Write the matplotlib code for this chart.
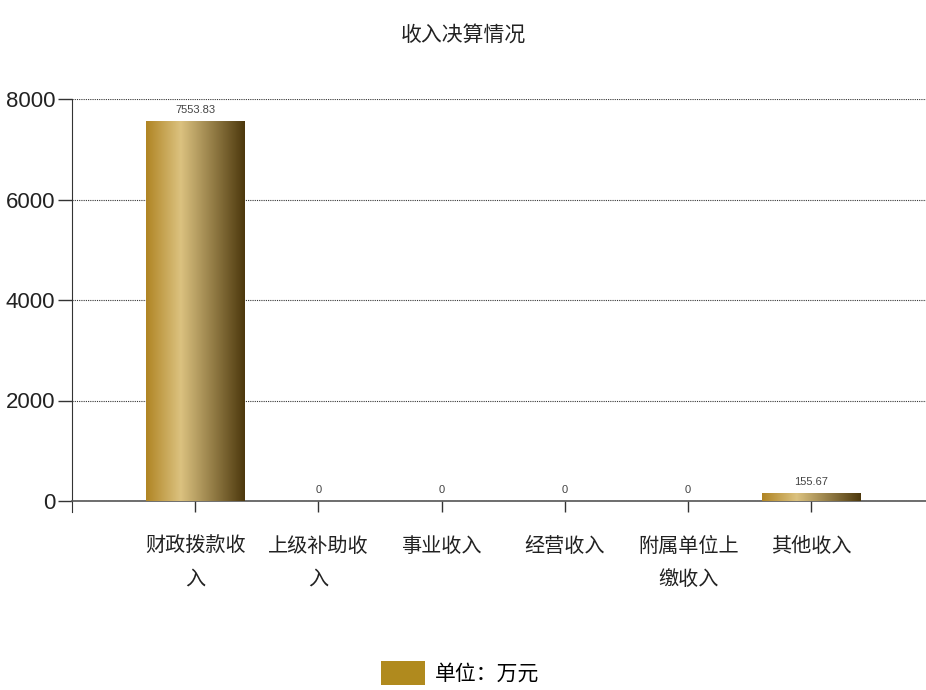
import matplotlib
matplotlib.use("Agg")
import matplotlib.pyplot as plt
import numpy as np
from matplotlib.colors import LinearSegmentedColormap
from matplotlib.patches import Patch

categories = ["财政拨款收\n入", "上级补助收\n入", "事业收入", "经营收入", "附属单位上\n缴收入", "其他收入"]
values = [7553.83, 0, 0, 0, 0, 155.67]
value_labels = ["7553.83", "0", "0", "0", "0", "155.67"]
yticks = [0, 2000, 4000, 6000, 8000]
title = "收入决算情况"
legend_label = "单位：万元"

cjk = ["Noto Sans CJK SC", "DejaVu Sans"]
latin = ["Liberation Sans", "DejaVu Sans"]
plt.rcParams['font.family'] = cjk

fig = plt.figure(figsize=(9.26, 6.9), dpi=100)
ax = fig.add_axes([72/926, 189/690, 1 - 72/926, (501-99)/690])

x = np.arange(len(categories))
bars = ax.bar(x, values, width=0.8, color="none", edgecolor="none", zorder=3)

cmap = LinearSegmentedColormap.from_list("gold", [
    (0.0, (0.69, 0.52, 0.14)),
    (0.35, (0.86, 0.76, 0.50)),
    (1.0, (0.30, 0.22, 0.05)),
])
grad = np.linspace(0, 1, 256).reshape(1, -1)
for b in bars:
    h = b.get_height()
    if h <= 0:
        continue
    x0 = b.get_x()
    w = b.get_width()
    im = ax.imshow(grad, cmap=cmap, aspect="auto", extent=[x0, x0 + w, 0, h],
                   zorder=3, interpolation="bilinear")
    im.set_clip_path(b)

for xi, v, lab in zip(x, values, value_labels):
    ax.text(xi, v + 120, lab, ha="center", va="bottom", fontsize=8,
            color="#444444", family=latin)

ax.set_xlim(-1, 5.93)
ax.set_ylim(0, 8000)
ax.set_yticks(yticks)
ax.set_yticklabels([str(t) for t in yticks], family=latin, fontsize=16, color="#222222")
ax.set_xticks(x)
ax.set_xticklabels(categories, fontsize=14.5, color="#222222", linespacing=1.75)
ax.tick_params(axis="y", length=10, width=1, color="#333333", pad=2)
ax.tick_params(axis="x", length=8, width=1, color="#333333", pad=17)

ax.grid(axis="y", linestyle=(0, (1, 1)), color="#333333", linewidth=0.8, zorder=0)
for s in ["top", "right"]:
    ax.spines[s].set_visible(False)
ax.spines["left"].set_color("#333333")
ax.spines["left"].set_bounds(-220, 8000)
ax.spines["bottom"].set_color("#555555")
ax.spines["bottom"].set_linewidth(1.2)

fig.text(0.5, 1 - 35/690, title, ha="center", va="center", fontsize=15, color="#222222")

handle = Patch(facecolor="#b08a1e", edgecolor="none")
fig.legend([handle], [legend_label], loc="center", bbox_to_anchor=(0.497, 1 - 673/690),
           frameon=False, fontsize=15, handlelength=2.1, handleheight=1.4, handletextpad=0.45)

fig.savefig("out.png", dpi=100)
